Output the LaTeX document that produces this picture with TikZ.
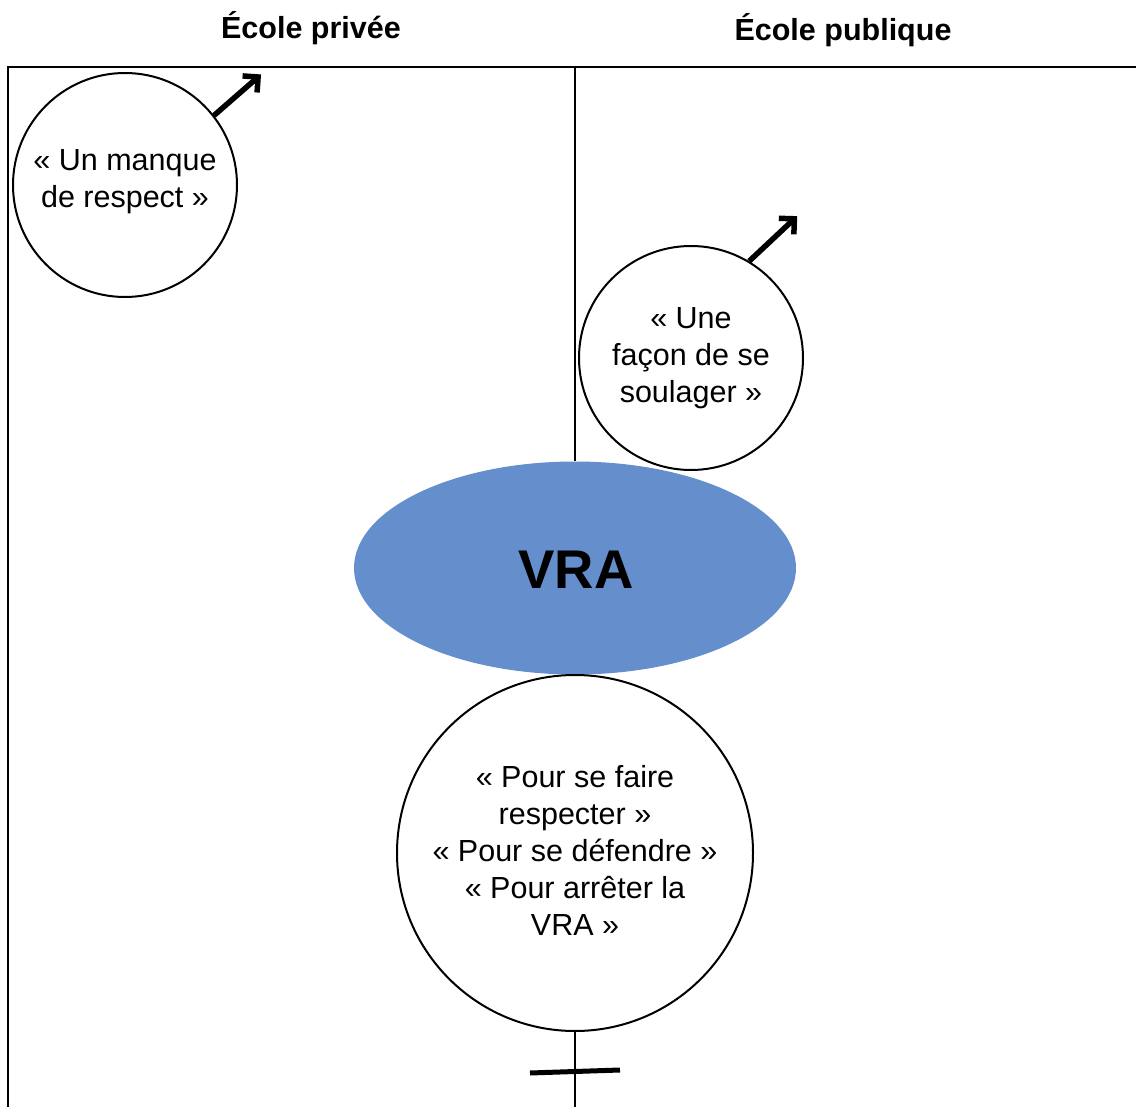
\documentclass[tikz,border=0pt]{standalone}
\usepackage{fontspec}
\setmainfont{Liberation Sans}
\usetikzlibrary{shapes.geometric,arrows.meta}
\definecolor{vrablue}{RGB}{101,143,204}
\tikzset{
  frame/.style={line width=2pt,black},
  bubble/.style={circle,draw=black,line width=2pt,fill=white,inner sep=0pt},
  quote/.style={align=center,font=\fontsize{30.5}{37}\selectfont,inner sep=0pt},
  header/.style={font=\fontsize{30.5}{34}\selectfont\bfseries,inner sep=0pt},
  outarrow/.style={line width=5.5pt,-{Straight Barb[length=11pt,width=22pt,line width=5.5pt]}},
  crossbar/.style={line width=5pt},
}
\begin{document}
\begin{tikzpicture}[x=1pt,y=-1pt]
\useasboundingbox (0,0) rectangle (1136,1107);
% headers
\node[header] (h1) at (311,28) {École privée};
\node[header] (h2) at (843,30) {École publique};
% frame
\coordinate (tl) at (8,67);
\coordinate (tr) at (1136,67);
\coordinate (bl) at (8,1107);
\coordinate (mt) at (575,67);
\coordinate (mb) at (575,1107);
\draw[frame] (tr) -- (tl) -- (bl);
% nodes
\node[ellipse,fill=vrablue,minimum width=442,minimum height=213,inner sep=0pt] (vra) at (575,568) {};
\node[font=\fontsize{54.5}{60}\selectfont\bfseries,inner sep=0pt] (vratext) at (576,570) {VRA};
\node[bubble,minimum size=224] (c1) at (125,185) {};
\node[quote] (t1) at (125,182) {« Un manque\\de respect »};
\node[bubble,minimum size=224] (c2) at (691,358) {};
\node[quote] (t2) at (691,358) {« Une\\façon de se\\soulager »};
\node[bubble,minimum size=356] (c3) at (575,853) {};
\node[quote] (t3) at (575,850) {« Pour se faire\\respecter »\\« Pour se défendre »\\« Pour arrêter la\\VRA »};
% middle line
\draw[frame] (mt) -- (vra.north);
\draw[frame] (c3.south) -- (mb);
% cross
\coordinate (xl) at (530,1073);
\coordinate (xr) at (620,1070);
\draw[crossbar] (xl) -- (xr);
% arrows
\draw[outarrow] (c1.38) -- ++(47,-41);
\draw[outarrow] (c2.59) -- ++(48,-45);
\end{tikzpicture}
\end{document}
